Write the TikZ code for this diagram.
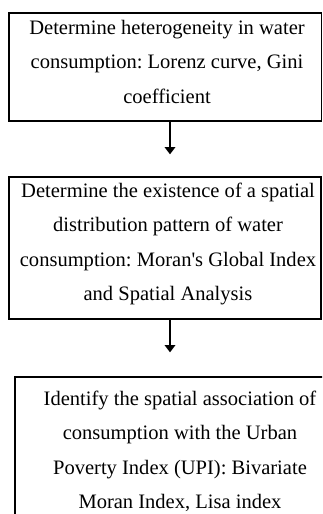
\documentclass[tikz,border=0pt]{standalone}
\usepackage{fontspec}
\setmainfont{Liberation Serif}
\usetikzlibrary{arrows.meta}
\frenchspacing
\begin{document}
\begin{tikzpicture}[x=0.75pt,y=-0.75pt,
  box/.style={draw=black,line width=1pt,rectangle,inner sep=0pt},
  txt/.style={anchor=north,align=center,inner sep=0pt,font=\fontsize{15.4}{25.9}\selectfont},
  arr/.style={line width=1.2pt,-{Triangle[width=8pt,length=5.5pt]}}]
\clip (0,0) rectangle (322,514);
\fill[white] (0,0) rectangle (322,514);
% boxes
\node[box,minimum width=312.5*0.75pt,minimum height=108*0.75pt] (b1) at (165.25,67) {};
\node[box,minimum width=312*0.75pt,minimum height=142*0.75pt] (b2) at (165,248) {};
\node[box,minimum width=330*0.75pt,minimum height=163*0.75pt] (b3) at (180,458.5) {};
% texts (north = first baseline - 0.7 baselineskip)
\node[txt] (t1) at (167,34-24.15) {\strut Determine heterogeneity in water\\\strut consumption: Lorenz curve, Gini\\\strut coefficient};
\node[txt] (t2) at (168,197-24.15) {\strut Determine the existence of a spatial\\\strut distribution pattern of water\\\strut consumption: Moran\textquotesingle s Global Index\\\strut and Spatial Analysis};
\node[txt] (t3) at (180,405-24.15) {\strut Identify the spatial association of\\\strut consumption with the Urban\\\strut Poverty Index (UPI): Bivariate\\\strut Moran Index, Lisa index};
% arrows
\coordinate (ax) at (170,0);
\draw[arr,shorten >=22*0.75pt] (b1.south -| ax) -- (b2.north -| ax);
\draw[arr,shorten >=24*0.75pt] (b2.south -| ax) -- (b3.north -| ax);
\end{tikzpicture}
\end{document}
